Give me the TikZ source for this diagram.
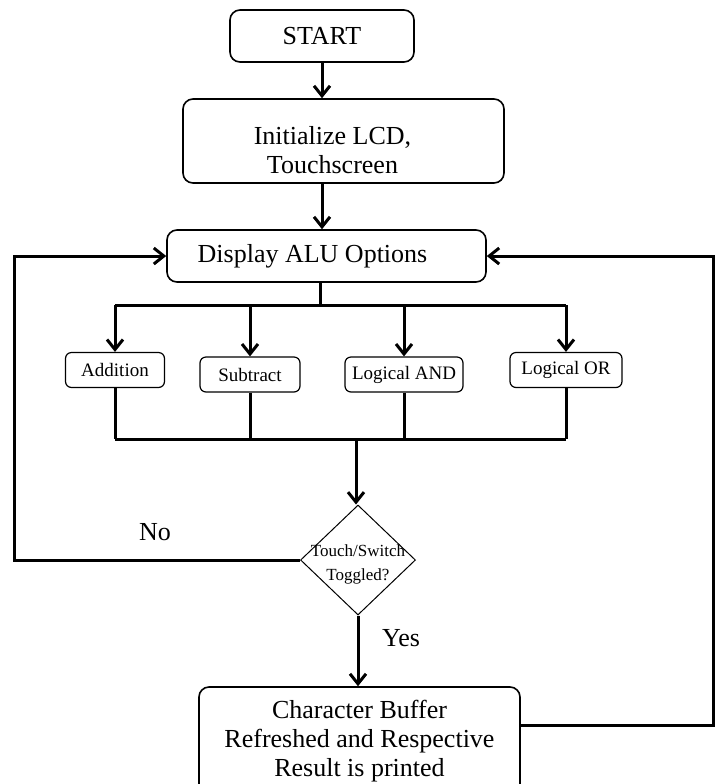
\documentclass[tikz,border=0pt]{standalone}
\usepackage{fontspec}
\setmainfont{Liberation Serif}
\usetikzlibrary{arrows.meta,shapes.geometric}

\tikzset{
  block/.style={draw, rounded corners=5pt, line width=0.8pt, align=center,
    font=\fontsize{13}{14.5}\selectfont, inner sep=0pt},
  opbox/.style={draw, rounded corners=3pt, line width=0.6pt, inner sep=0pt,
    font=\fontsize{9.5}{11}\selectfont, minimum height=17.5pt},
  flow/.style={line width=1.5pt},
}

\begin{document}
\begin{tikzpicture}[x=0.5pt, y=-0.5pt, >={Straight Barb[length=5pt,width=8pt]}]
		\useasboundingbox (0,0) rectangle (715,784);
		\clip (0,0) rectangle (715,784);
		
		% Main blocks
		\node[block, minimum width=92pt, minimum height=26pt] (start) at (322,36) {START};
		\node[block, minimum width=160.5pt, minimum height=42pt, text height=32.5pt, text depth=0pt] (init) at (343.5,141) {Initialize LCD,\hspace*{11pt}\\Touchscreen\hspace*{11pt}};
		\node[block, minimum width=159.5pt, minimum height=26pt] (disp) at (326.5,256) {Display ALU Options\hspace*{14pt}};
		
		% ALU operations
		\node[opbox, minimum width=49.5pt] (add) at (115,370) {Addition};
		\node[opbox, minimum width=50pt] (sub) at (250,374.5) {Subtract};
		\node[opbox, minimum width=59pt] (and) at (404,374.5) {Logical AND};
		\node[opbox, minimum width=56pt] (or) at (566,370) {Logical OR};
		
		% Decision and result
		\node[draw, diamond, minimum width=57.5pt, minimum height=55pt, inner sep=0pt, line width=0.5pt,
			label={[align=center, font=\fontsize{8.5}{12}\selectfont, yshift=-2pt]center:Touch/Switch\\Toggled?}] (dec) at (358,560) {};
		\node[block, minimum width=160.5pt, minimum height=54pt] (res) at (359.5,741) {Character Buffer\\Refreshed and Respective\\Result is printed};
		
		\coordinate (split) at (320,305);
		\coordinate (merge) at (356,439);
		\coordinate (lft) at (14,256);
		\coordinate (rgt) at (713,256);
		
		% Draw arrows
		\draw[flow, ->] (start.south) -- (start.south |- init.north);
		\draw[flow, ->] (start.south |- init.south) -- (start.south |- disp.north);
		\draw[flow] (disp.south -| split) -- (split);
		\draw[flow] (add.north |- split) -- (or.north |- split);
		\foreach \op in {add, sub, and, or}
		\draw[flow, ->] (\op.north |- split) -- (\op.north);
		
		\foreach \op in {add, sub, and, or}
		\draw[flow] (\op.south) -- (\op.south |- merge);
		\draw[flow] (add.south |- merge) -- (or.south |- merge);
		\draw[flow, ->] (merge) -- (merge |- dec.north);
		
		% Loops back to the options
		\draw[flow, ->] (dec.west) -| (lft) -- (disp.west);
		\draw[flow, ->] (dec.south) -- (dec.south |- res.north);
		\draw[flow, ->] ([yshift=-19.5pt]res.north east) -| (rgt) -- (disp.east);
		
		% Add labels
		\node[font=\fontsize{13}{14}\selectfont] (no) at (155,532) {No};
		\node[font=\fontsize{13}{14}\selectfont] (yes) at (401,638) {Yes};
		
	\end{tikzpicture}
\end{document}
